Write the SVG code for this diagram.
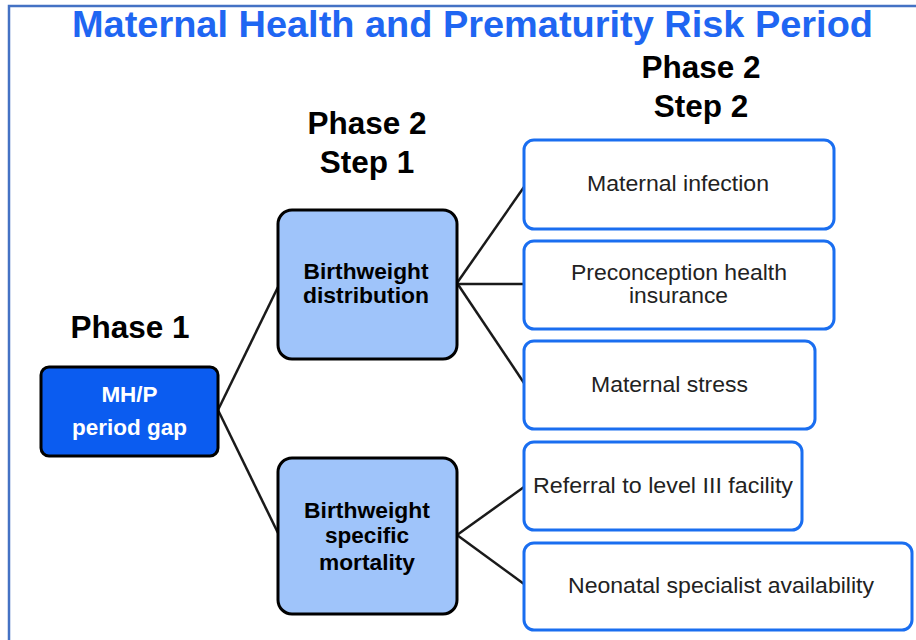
<svg xmlns="http://www.w3.org/2000/svg" width="916" height="640" viewBox="0 0 916 640">
<style>
.frame{fill:none;stroke:#4472C4;stroke-width:2.5}
.title{font-family:"Liberation Sans",Arial,sans-serif;font-weight:bold;font-size:36px;fill:#1F66F2;text-anchor:middle}
.phase{font-family:"Liberation Sans",Arial,sans-serif;font-weight:bold;font-size:31.5px;fill:#000;text-anchor:middle}
.root rect{fill:#0B5CF0;stroke:#000;stroke-width:3}
.root text{font-family:"Liberation Sans",Arial,sans-serif;font-weight:bold;font-size:22.5px;fill:#fff;text-anchor:middle}
.mid rect{fill:#9FC4FA;stroke:#000;stroke-width:3}
.mid text{font-family:"Liberation Sans",Arial,sans-serif;font-weight:bold;font-size:22px;fill:#000;text-anchor:middle}
.leaf rect{fill:#fff;stroke:#1A6EF0;stroke-width:3}
.leaf text{font-family:"Liberation Sans",Arial,sans-serif;font-size:22px;fill:#222;text-anchor:middle}
.conn line{stroke:#1a1a1a;stroke-width:2.5}
</style>
<rect width="916" height="640" fill="#fff"/>
<path class="frame" d="M9 640 V6 H916"/>
<text class="title" x="472.5" y="37" textLength="801" lengthAdjust="spacingAndGlyphs">Maternal Health and Prematurity Risk Period</text>
<text class="phase" x="130" y="338">Phase 1</text>
<text class="phase" x="367" y="134">Phase 2</text>
<text class="phase" x="367" y="173">Step 1</text>
<text class="phase" x="701" y="78">Phase 2</text>
<text class="phase" x="701" y="117">Step 2</text>
<g id="connectors" class="conn">
<line x1="218" y1="410" x2="278" y2="287"/>
<line x1="218" y1="410" x2="278" y2="533"/>
<line x1="457" y1="283" x2="524" y2="187"/>
<line x1="457" y1="284" x2="524" y2="284"/>
<line x1="457" y1="283" x2="524" y2="383"/>
<line x1="457" y1="535" x2="524" y2="487"/>
<line x1="457" y1="535" x2="524" y2="584"/>
</g>
<g id="mhp" class="root">
<rect x="41" y="367" width="177" height="89" rx="8"/>
<text x="129.5" y="402">MH/P</text>
<text x="129.5" y="435">period gap</text>
</g>
<g id="bw-dist" class="mid">
<rect x="278" y="210" width="179" height="149" rx="14"/>
<text x="366" y="279" textLength="125" lengthAdjust="spacingAndGlyphs">Birthweight</text>
<text x="366" y="303" textLength="126" lengthAdjust="spacingAndGlyphs">distribution</text>
</g>
<g id="bw-mort" class="mid">
<rect x="278" y="458" width="179" height="156" rx="14"/>
<text x="367" y="518" textLength="126" lengthAdjust="spacingAndGlyphs">Birthweight</text>
<text x="367" y="543" textLength="84" lengthAdjust="spacingAndGlyphs">specific</text>
<text x="367" y="570" textLength="96" lengthAdjust="spacingAndGlyphs">mortality</text>
</g>
<g id="mat-inf" class="leaf">
<rect x="524" y="140" width="310" height="89" rx="10"/>
<text x="678" y="191" textLength="182" lengthAdjust="spacingAndGlyphs">Maternal infection</text>
</g>
<g id="precon" class="leaf">
<rect x="524" y="241" width="310" height="88" rx="10"/>
<text x="679" y="280" textLength="216" lengthAdjust="spacingAndGlyphs">Preconception health</text>
<text x="678.5" y="303" textLength="99" lengthAdjust="spacingAndGlyphs">insurance</text>
</g>
<g id="mat-stress" class="leaf">
<rect x="524" y="341" width="291" height="88" rx="10"/>
<text x="669.5" y="392" textLength="157" lengthAdjust="spacingAndGlyphs">Maternal stress</text>
</g>
<g id="referral" class="leaf">
<rect x="524" y="442" width="278" height="88" rx="10"/>
<text x="663" y="493" textLength="260" lengthAdjust="spacingAndGlyphs">Referral to level III facility</text>
</g>
<g id="neonatal" class="leaf">
<rect x="524" y="543" width="388" height="87" rx="10"/>
<text x="721" y="593" textLength="306" lengthAdjust="spacingAndGlyphs">Neonatal specialist availability</text>
</g>
</svg>
